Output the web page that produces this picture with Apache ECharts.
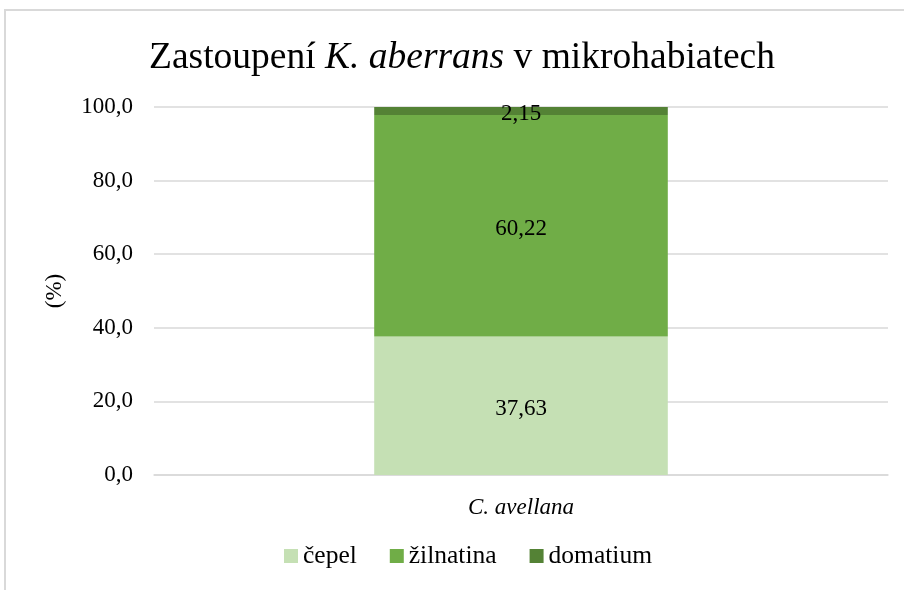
<!DOCTYPE html>
<html>
<head>
<meta charset="utf-8">
<script src="https://cdn.jsdelivr.net/npm/echarts@6/dist/echarts.min.js"></script>
<style>
  body { margin: 0; background: #fff; }
  #wrap { position: relative; width: 904px; height: 590px; overflow: hidden; }
  #chart { width: 904px; height: 590px; }
  #frame { position: absolute; left: 4px; top: 9px; width: 1000px; height: 1000px;
           border: 2px solid #d9d9d9; pointer-events: none; }
</style>
</head>
<body>
<div id="wrap">
  <div id="chart"></div>
  <div id="frame"></div>
</div>
<script>
// data
const categories = ['C. avellana']
const seriesNames = ['čepel', 'žilnatina', 'domatium']
const cepel = [37.63]
const zilnatina = [60.22]
const domatium = [2.15]
const seriesColors = ['#c5e0b4', '#70ad47', '#548235']

const font = 'Liberation Serif, Times New Roman, serif'
const fmt = v => Number(v).toFixed(1).replace('.', ',')

const chart = echarts.init(document.getElementById('chart'))

const mkSeries = (name, data, color) => ({
  name: name,
  type: 'bar',
  stack: 'total',
  barWidth: '40%',
  itemStyle: { color: color },
  label: {
    show: true,
    position: 'inside',
    offset: [0, 3],
    color: '#000',
    fontFamily: font,
    fontSize: 23,
    formatter: p => String(p.value).replace('.', ',')
  },
  data: data
})

const option = {
  animation: false,
  title: {
    text: '{n|Zastoupení }{i|K. aberrans}{n| v mikrohabiatech}',
    left: 144,
    top: 34,
    textStyle: {
      rich: {
        n: { fontFamily: font, fontSize: 37.5, fontWeight: 'normal', color: '#000' },
        i: { fontFamily: font, fontSize: 37.5, fontWeight: 'normal', fontStyle: 'italic', color: '#000' }
      }
    }
  },
  grid: { left: 154, right: 16, top: 107, bottom: 115 },
  legend: {
    bottom: 16,
    left: 279,
    itemWidth: 14,
    itemHeight: 14,
    itemGap: 33,
    icon: 'rect',
    textStyle: { fontFamily: font, fontSize: 25.5, color: '#000' },
    data: seriesNames
  },
  xAxis: {
    type: 'category',
    data: categories,
    axisLine: { lineStyle: { color: '#d9d9d9', width: 1.5 } },
    axisTick: { show: false },
    axisLabel: { fontFamily: font, fontSize: 23, fontStyle: 'italic', color: '#000', margin: 21 }
  },
  yAxis: {
    type: 'value',
    min: 0,
    max: 100,
    interval: 20,
    name: '(%)',
    nameLocation: 'middle',
    nameRotate: 90,
    nameGap: 88,
    nameTextStyle: { fontFamily: font, fontSize: 23, color: '#000' },
    axisLine: { show: false },
    axisTick: { show: false },
    splitLine: { lineStyle: { color: '#d9d9d9', width: 1.5 } },
    axisLabel: { fontFamily: font, fontSize: 23, color: '#000', margin: 21, formatter: fmt }
  },
  series: [
    mkSeries(seriesNames[0], cepel, seriesColors[0]),
    mkSeries(seriesNames[1], zilnatina, seriesColors[1]),
    mkSeries(seriesNames[2], domatium, seriesColors[2])
  ]
}

chart.setOption(option)
</script>
</body>
</html>
